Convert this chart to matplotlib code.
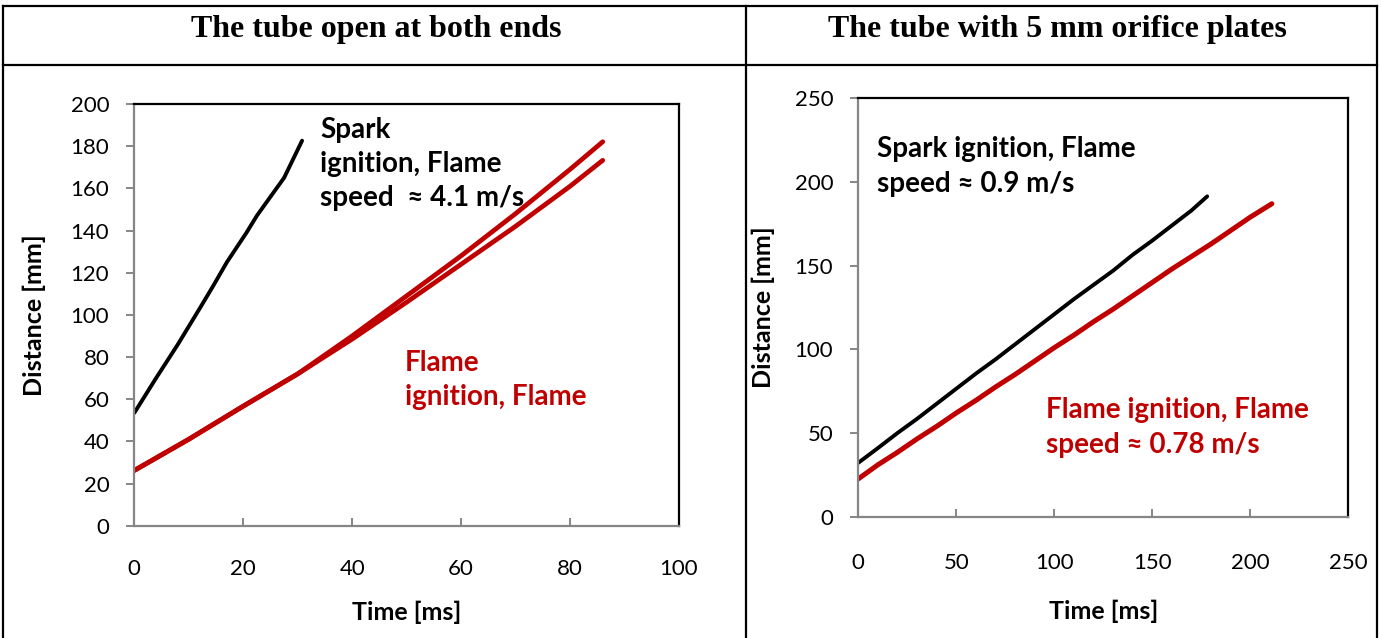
import matplotlib
matplotlib.use("Agg")
import matplotlib.pyplot as plt
from matplotlib.lines import Line2D

# datos leidos del grafico original
# tubo abierto en ambos extremos
t_spark_open = [0, 4, 8, 12, 14.5, 17, 20.6, 22.5, 24.3, 27.5, 30.8]
d_spark_open = [53.5, 70, 86, 103, 113.8, 125, 139, 147, 153.5, 165, 182.6]

t_flame_open = [0, 10, 20, 30, 40, 50, 60, 70, 80, 86]
d_flame_open_a = [26.2, 41, 56.7, 72, 90, 109, 128, 148, 169, 182.1]
d_flame_open_b = [26.2, 41, 56.7, 72, 88.5, 106, 124, 142, 161, 173.3]

# tubo con placas de orificio de 5 mm
t_spark_orif = [0, 10, 20, 30, 40, 50, 60, 70, 80, 90, 100, 110, 120, 130, 140, 150, 160, 170, 178]
d_spark_orif = [32.2, 41, 50, 58.5, 67.5, 76.5, 85.5, 94, 103, 112, 121, 130, 138.5, 147,
                156.5, 165, 174, 183, 191.4]

t_flame_orif = [0, 10, 20, 30, 40, 50, 60, 70, 80, 90, 100, 110, 120, 130, 140, 150, 160,
                170, 180, 190, 200, 211]
d_flame_orif = [22.6, 31, 38.5, 46.5, 54, 62, 69.5, 77.5, 85, 93, 101, 108.5, 116.5, 124,
                132, 140, 148, 155.5, 163, 171, 179, 187]

titles = ["The tube open at both ends", "The tube with 5 mm orifice plates"]

RED = "#C00000"
GREY = "#868686"
W, H = 1381, 638

plt.rcParams["font.family"] = ["Lato", "DejaVu Sans"]

fig = plt.figure(figsize=(W / 100, H / 100), dpi=100)


def px_rect(x0, x1, y_top, y_bot):
    return [x0 / W, 1 - y_bot / H, (x1 - x0) / W, (y_bot - y_top) / H]


def estilo(ax, xmax, xstep, ymax, ystep, xpad, xlp, ylp):
    ax.set_xlim(0, xmax)
    ax.set_ylim(0, ymax)
    ax.set_xticks(range(0, xmax + 1, xstep))
    ax.set_yticks(range(0, ymax + 1, ystep))
    for s in ["left", "bottom"]:
        ax.spines[s].set_color(GREY)
        ax.spines[s].set_linewidth(1.6)
    for s in ["top", "right"]:
        ax.spines[s].set_color("black")
        ax.spines[s].set_linewidth(1.6)
    ax.tick_params(axis="y", direction="out", length=6, width=1.4, color=GREY,
                   labelsize=16, pad=12)
    ax.tick_params(axis="x", direction="in", length=6, width=1.4, color=GREY,
                   labelsize=16, pad=xpad)
    ax.set_xlabel("Time [ms]", fontsize=18, fontweight="bold", labelpad=xlp)
    ax.set_ylabel("Distance [mm]", fontsize=18, fontweight="bold", labelpad=ylp)


# grafico izquierdo
ax1 = fig.add_axes(px_rect(134.3, 679, 104, 525.7))
ax1.plot(t_spark_open, d_spark_open, color="black", lw=2.8, solid_capstyle="round")
ax1.plot(t_flame_open, d_flame_open_a, color=RED, lw=3.4, solid_capstyle="round")
ax1.plot(t_flame_open, d_flame_open_b, color=RED, lw=3.4, solid_capstyle="round")
estilo(ax1, 100, 20, 200, 20, 24, 15.5, 18)
ax1.text(0.341, 0.969, "Spark\nignition, Flame\nspeed  \u2248 4.1 m/s", transform=ax1.transAxes,
         fontsize=20, fontweight="bold", color="black", va="top", ha="left", linespacing=1.38)
ax1.text(0.497, 0.417, "Flame\nignition, Flame", transform=ax1.transAxes,
         fontsize=20, fontweight="bold", color=RED, va="top", ha="left", linespacing=1.38)

# grafico derecho
ax2 = fig.add_axes(px_rect(858.3, 1348.3, 98.3, 516.7))
ax2.plot(t_spark_orif, d_spark_orif, color="black", lw=2.8, solid_capstyle="round")
ax2.plot(t_flame_orif, d_flame_orif, color=RED, lw=3.6, solid_capstyle="round")
estilo(ax2, 250, 50, 250, 50, 26, 19, 14)
ax2.text(0.038, 0.91, "Spark ignition, Flame\nspeed \u2248 0.9 m/s", transform=ax2.transAxes,
         fontsize=20, fontweight="bold", color="black", va="top", ha="left", linespacing=1.45)
ax2.text(0.383, 0.286, "Flame ignition, Flame\nspeed \u2248 0.78 m/s", transform=ax2.transAxes,
         fontsize=20, fontweight="bold", color=RED, va="top", ha="left", linespacing=1.45)

# bordes de la tabla
def linea(x0, y0, x1, y1):
    fig.add_artist(Line2D([x0 / W, x1 / W], [1 - y0 / H, 1 - y1 / H],
                          color="black", lw=1.6, transform=fig.transFigure))


linea(3, 6, 1377, 6)
linea(3, 65, 1377, 65)
linea(3, 6, 3, H)
linea(1377, 6, 1377, H)
linea(746, 6, 746, H)

fig.text(376 / W, 1 - 30 / H, titles[0], ha="center", va="center",
         family="Liberation Serif", fontweight="bold", fontsize=23)
fig.text(1057 / W, 1 - 30 / H, titles[1], ha="center", va="center",
         family="Liberation Serif", fontweight="bold", fontsize=23)

fig.savefig("out.png", dpi=100)
